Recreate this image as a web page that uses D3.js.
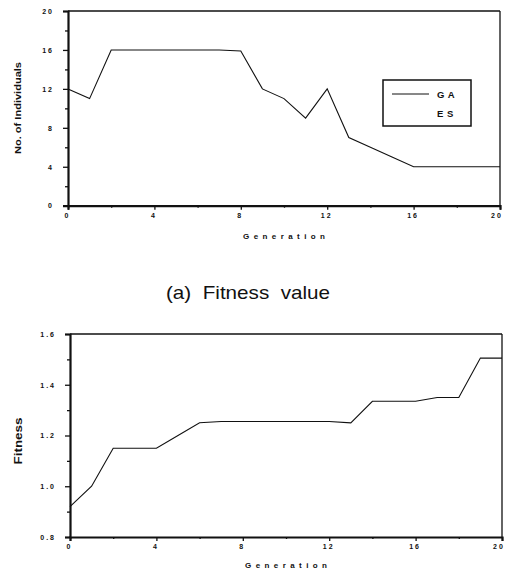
<!DOCTYPE html>
<html><head><meta charset="utf-8">
<script src="https://cdn.jsdelivr.net/npm/d3@7"></script>
<style>
body{margin:0;background:#fff;}
svg{display:block;}
text{font-family:"Liberation Sans",Arial,sans-serif;fill:#111;}
</style></head>
<body>
<script>
// ---- data ----
const generations = [0,1,2,3,4,5,6,7,8,9,10,11,12,13,14,15,16,17,18,19,20];
const gaIndividuals = [12,11,16,16,16,16,16,16,15.9,12,11,9,12,7,6,5,4,4,4,4,4];
const gaFitness = [0.92,1.0,1.15,1.15,1.15,1.2,1.25,1.255,1.255,1.255,1.255,1.255,1.255,1.25,1.335,1.335,1.335,1.35,1.35,1.505,1.505];
const xTicks = [0,4,8,12,16,20];
const xMinor = [2,6,10,14,18];
const yTicksTop = [0,4,8,12,16,20];
const yMinorTop = [2,6,10,14,18];
const yTicksBottom = [0.8,1.0,1.2,1.4,1.6];
const yMinorBottom = [0.9,1.1,1.3,1.5];
const legendLabels = ["G A","E S"];
const caption = "(a)  Fitness  value";

const W=507,H=573;
const svg=d3.select("body").append("svg").attr("width",W).attr("height",H);

function panel(cfg){
  const x=d3.scaleLinear().domain([0,20]).range([cfg.l,cfg.r]);
  const y=d3.scaleLinear().domain(cfg.ydom).range([cfg.b,cfg.t]);
  const g=svg.append("g");
  // frame top/right
  g.append("line").attr("x1",cfg.l).attr("x2",cfg.r).attr("y1",cfg.t).attr("y2",cfg.t).attr("stroke","#111").attr("stroke-width",1.5);
  g.append("line").attr("x1",cfg.r).attr("x2",cfg.r).attr("y1",cfg.t).attr("y2",cfg.b).attr("stroke","#111").attr("stroke-width",1.3);
  // left axis
  const ya=g.append("g").attr("transform",`translate(${cfg.l},0)`)
    .call(d3.axisLeft(y).tickValues(cfg.yt).tickSize(5).tickPadding(9).tickFormat(cfg.yfmt));
  ya.append("g").attr("class","minor").call(d3.axisLeft(y).tickValues(cfg.ym).tickSize(3).tickFormat(""));
  // bottom axis
  const xa=g.append("g").attr("transform",`translate(0,${cfg.b})`)
    .call(d3.axisBottom(x).tickValues(xTicks).tickSize(4).tickPadding(3).tickFormat(d3.format("d")));
  xa.append("g").attr("class","minor").call(d3.axisBottom(x).tickValues(xMinor).tickSize(2).tickFormat(""));
  [ya,xa].forEach(a=>{
    a.selectAll(".domain").attr("stroke","#111").attr("stroke-width",2.2);
    a.selectAll(".minor .domain").attr("stroke","none");
    a.selectAll(".tick line").attr("stroke","#111").attr("stroke-width",1.3);
    a.selectAll(".tick text").attr("font-size",7).attr("font-weight","bold").attr("letter-spacing",2).attr("fill","#111")
      .attr("font-family","Liberation Sans, Arial, sans-serif");
  });
  xa.selectAll(".tick text").attr("dx",d=>d===20?-3.5:-1);
  // data line
  g.append("path").datum(generations.map((d,i)=>[d,cfg.vals[i]]))
    .attr("d",d3.line().x(d=>x(d[0])).y(d=>y(d[1])))
    .attr("fill","none").attr("stroke","#111").attr("stroke-width",1.1);
  // axis titles
  g.append("text").attr("x",(cfg.l+cfg.r)/2).attr("y",cfg.xty).attr("text-anchor","middle")
    .attr("font-size",8).attr("font-weight","bold").attr("textLength",82).attr("lengthAdjust","spacing")
    .text("Generation");
  g.append("text").attr("transform",`translate(${cfg.ytx},${cfg.yty}) rotate(-90)`).attr("text-anchor","middle")
    .attr("font-size",cfg.ytfs).attr("font-weight","bold").attr("textLength",cfg.ytlen).attr("lengthAdjust","spacingAndGlyphs")
    .text(cfg.ytitle);
  return {x,y,g};
}

const panelTop=panel({l:68,r:500,t:11,b:205.7,ydom:[0,20],yt:yTicksTop,ym:yMinorTop,yfmt:d3.format("d"),
  vals:gaIndividuals,xty:239,ytx:21,yty:108,ytfs:9.5,ytlen:92,ytitle:"No. of Individuals"});
const panelBottom=panel({l:70,r:502,t:334,b:537,ydom:[0.8,1.6],yt:yTicksBottom,ym:yMinorBottom,yfmt:d3.format(".1f"),
  vals:gaFitness,xty:568,ytx:21.5,yty:441,ytfs:10.5,ytlen:47,ytitle:"Fitness"});

// legend
const lg=svg.append("g");
lg.append("rect").attr("x",383).attr("y",80).attr("width",88).attr("height",46)
  .attr("fill","#fff").attr("stroke","#111").attr("stroke-width",1.5);
lg.append("line").attr("x1",392).attr("x2",429).attr("y1",94).attr("y2",94).attr("stroke","#111").attr("stroke-width",1);
lg.selectAll("text.lab").data(legendLabels).enter().append("text").attr("class","lab")
  .attr("x",437).attr("y",(d,i)=>97.5+i*19).attr("font-size",9.5).attr("font-weight","bold").attr("letter-spacing",0.5)
  .text(d=>d);

// caption
svg.append("text").attr("x",248).attr("y",299).attr("text-anchor","middle")
  .attr("font-size",19).attr("textLength",164).attr("lengthAdjust","spacingAndGlyphs")
  .style("white-space","pre").attr("xml:space","preserve").text(caption);
</script>
</body></html>
